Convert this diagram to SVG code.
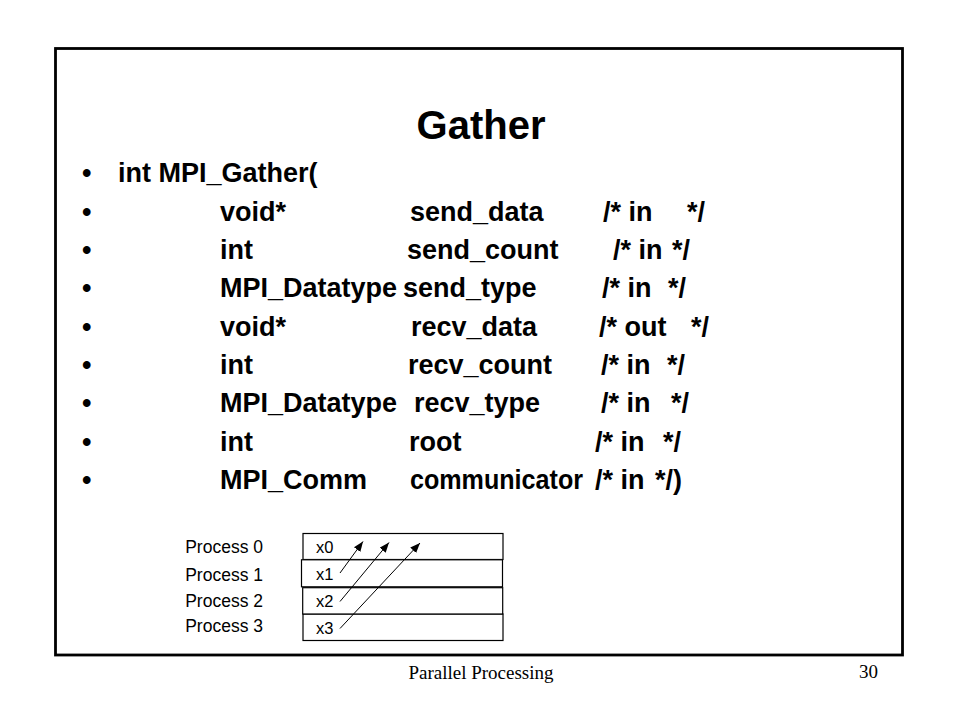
<svg xmlns="http://www.w3.org/2000/svg" width="960" height="720" viewBox="0 0 960 720">
<defs>
<style>
.b{font-family:"Liberation Sans",Arial,sans-serif;font-weight:bold;font-size:27px;fill:#000}
.t{font-family:"Liberation Sans",Arial,sans-serif;font-weight:bold;font-size:40px;fill:#000}
.s{font-family:"Liberation Sans",Arial,sans-serif;font-size:16.5px;fill:#000}
.p{font-family:"Liberation Sans",Arial,sans-serif;font-size:17.5px;fill:#000}
.f{font-family:"Liberation Serif","Times New Roman",serif;font-size:19px;fill:#000}
.box{fill:#fff;stroke:#000;stroke-width:1.2}
.conn{stroke:#000;stroke-width:1;fill:none;marker-end:url(#ah)}
</style>
<marker id="ah" markerUnits="userSpaceOnUse" markerWidth="10" markerHeight="8" refX="10" refY="4" orient="auto">
<path d="M0,0 L10,4 L0,8 z" fill="#000"/>
</marker>
</defs>
<rect width="960" height="720" fill="#fff"/>
<rect x="55.5" y="48.5" width="847" height="606.5" fill="none" stroke="#000" stroke-width="2.8"/>
<text class="t" x="481" y="139" text-anchor="middle">Gather</text>
<g id="code">
<text class="b" x="82" y="182">•</text><text class="b" x="118" y="182">int MPI_Gather(</text>
<text class="b" x="82" y="220.5">•</text><text class="b" x="220" y="220.5">void*</text><text class="b" x="410" y="220.5">send_data</text><text class="b" x="603" y="220.5">/* in</text><text class="b" x="687" y="220.5">*/</text>
<text class="b" x="82" y="259">•</text><text class="b" x="220" y="259">int</text><text class="b" x="407" y="259">send_count</text><text class="b" x="613" y="259">/* in</text><text class="b" x="672" y="259">*/</text>
<text class="b" x="82" y="297">•</text><text class="b" x="220" y="297">MPI_Datatype</text><text class="b" x="403" y="297">send_type</text><text class="b" x="602" y="297">/* in</text><text class="b" x="668" y="297">*/</text>
<text class="b" x="82" y="335.5">•</text><text class="b" x="220" y="335.5">void*</text><text class="b" x="411" y="335.5">recv_data</text><text class="b" x="599" y="335.5">/* out</text><text class="b" x="691" y="335.5">*/</text>
<text class="b" x="82" y="374">•</text><text class="b" x="220" y="374">int</text><text class="b" x="408" y="374">recv_count</text><text class="b" x="601" y="374">/* in</text><text class="b" x="667" y="374">*/</text>
<text class="b" x="82" y="412">•</text><text class="b" x="220" y="412">MPI_Datatype</text><text class="b" x="414" y="412">recv_type</text><text class="b" x="601" y="412">/* in</text><text class="b" x="671" y="412">*/</text>
<text class="b" x="82" y="451">•</text><text class="b" x="220" y="451">int</text><text class="b" x="409" y="451">root</text><text class="b" x="595" y="451">/* in</text><text class="b" x="663" y="451">*/</text>
<text class="b" x="82" y="489">•</text><text class="b" x="220" y="489">MPI_Comm</text><text class="b" x="410" y="489" textLength="173" lengthAdjust="spacingAndGlyphs">communicator</text><text class="b" x="595" y="489">/* in</text><text class="b" x="655" y="489">*/)</text>
</g>
<g id="labels">
<text class="p" x="263" y="553" text-anchor="end">Process 0</text>
<text class="p" x="263" y="581" text-anchor="end">Process 1</text>
<text class="p" x="263" y="607" text-anchor="end">Process 2</text>
<text class="p" x="263" y="632" text-anchor="end">Process 3</text>
</g>
<g id="node-p0"><rect class="box" x="303" y="533.5" width="200" height="26"/><text class="s" x="316" y="553">x0</text></g>
<g id="node-p3"><rect class="box" x="303" y="614" width="200" height="26.5"/><text class="s" x="316" y="634">x3</text></g>
<g id="node-p2"><rect class="box" x="302.7" y="587.7" width="200" height="26.3"/><text class="s" x="316" y="607">x2</text></g>
<g id="node-p1"><rect class="box" x="301.5" y="559.8" width="201" height="27" stroke-width="2.2"/><text class="s" x="316" y="580">x1</text></g>
<g id="connectors">
<line class="conn" x1="340" y1="573" x2="363" y2="541.5"/>
<line class="conn" x1="340" y1="601.5" x2="389" y2="542.5"/>
<line class="conn" x1="340" y1="628.5" x2="420" y2="543"/>
</g>
<text class="f" x="481" y="679" text-anchor="middle">Parallel Processing</text>
<text class="f" x="859" y="678">30</text>
</svg>
